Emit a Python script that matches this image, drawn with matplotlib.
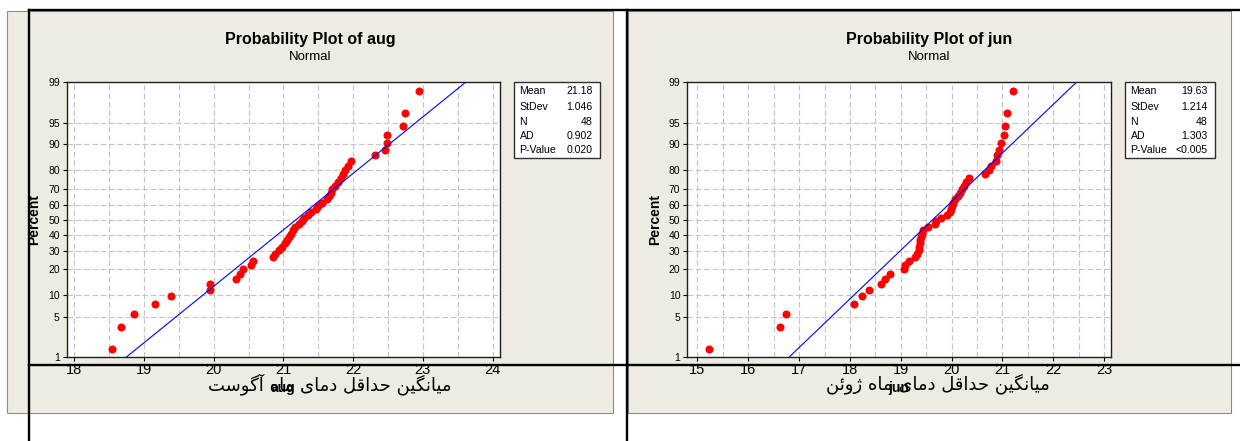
import math
import numpy as np
import matplotlib
matplotlib.use('Agg')
import matplotlib.pyplot as plt
from matplotlib.patches import Rectangle
from matplotlib.lines import Line2D

# sorted monthly minimum temperatures
aug = [18.54, 18.67, 18.86, 19.16, 19.39, 19.94, 19.95, 20.32, 20.38, 20.42,
       20.53, 20.56, 20.85, 20.88, 20.93, 20.98, 21.02, 21.05, 21.08, 21.11,
       21.14, 21.17, 21.22, 21.26, 21.30, 21.35, 21.40, 21.46, 21.50, 21.55,
       21.62, 21.66, 21.68, 21.70, 21.74, 21.78, 21.82, 21.85, 21.88, 21.92,
       21.97, 22.31, 22.46, 22.48, 22.49, 22.72, 22.75, 22.94]
jun = [15.23, 16.63, 16.74, 18.08, 18.23, 18.37, 18.62, 18.68, 18.79, 19.07,
       19.09, 19.16, 19.28, 19.32, 19.35, 19.36, 19.37, 19.38, 19.39, 19.41,
       19.44, 19.54, 19.67, 19.70, 19.80, 19.90, 19.97, 19.99, 20.00, 20.03,
       20.07, 20.12, 20.16, 20.20, 20.24, 20.29, 20.35, 20.65, 20.74, 20.77,
       20.87, 20.90, 20.93, 20.97, 21.03, 21.06, 21.08, 21.20]

# summary table values
stat_names = ['Mean', 'StDev', 'N', 'AD', 'P-Value']
aug_stats = ['21.18', '1.046', '48', '0.902', '0.020']
jun_stats = ['19.63', '1.214', '48', '1.303', '<0.005']
aug_mean, aug_sd = 21.18, 1.046
jun_mean, jun_sd = 19.63, 1.214

pct_ticks = [1, 5, 10, 20, 30, 40, 50, 60, 70, 80, 90, 95, 99]
aug_xticks = [18, 19, 20, 21, 22, 23, 24]
jun_xticks = [15, 16, 17, 18, 19, 20, 21, 22, 23]

aug_fa = 'میانگین حداقل دمای ماه آگوست'
jun_fa = 'میانگین حداقل دمای ماه ژوئن'


def ppf(p):
    """inverse normal cdf (Acklam), p in (0, 1)"""
    p = np.clip(np.asarray(p, dtype=float), 1e-9, 1 - 1e-9)
    a = [-3.969683028665376e+01, 2.209460984245205e+02, -2.759285104469687e+02,
         1.383577518672690e+02, -3.066479806614716e+01, 2.506628277459239e+00]
    b = [-5.447609879822406e+01, 1.615858368580409e+02, -1.556989798598866e+02,
         6.680131188771972e+01, -1.328068155288572e+01]
    c = [-7.784894002430293e-03, -3.223964580411365e-01, -2.400758277161838e+00,
         -2.549732539343734e+00, 4.374664141464968e+00, 2.938163982698783e+00]
    d = [7.784695709041462e-03, 3.224671290700398e-01, 2.445134137142996e+00,
         3.754408661907416e+00]
    lo = 0.02425
    out = np.empty_like(p)
    m = p < lo
    q = np.sqrt(-2 * np.log(p[m]))
    out[m] = (((((c[0]*q+c[1])*q+c[2])*q+c[3])*q+c[4])*q+c[5]) / ((((d[0]*q+d[1])*q+d[2])*q+d[3])*q+1)
    m = p > 1 - lo
    q = np.sqrt(-2 * np.log(1 - p[m]))
    out[m] = -(((((c[0]*q+c[1])*q+c[2])*q+c[3])*q+c[4])*q+c[5]) / ((((d[0]*q+d[1])*q+d[2])*q+d[3])*q+1)
    m = (p >= lo) & (p <= 1 - lo)
    q = p[m] - 0.5
    r = q * q
    out[m] = (((((a[0]*r+a[1])*r+a[2])*r+a[3])*r+a[4])*r+a[5])*q / (((((b[0]*r+b[1])*r+b[2])*r+b[3])*r+b[4])*r+1)
    return out


erf = np.vectorize(math.erf)


def pct_forward(pct):
    return ppf(np.asarray(pct, dtype=float) / 100.0)


def pct_inverse(z):
    return 50.0 * (1 + erf(np.asarray(z, dtype=float) / math.sqrt(2)))


# persian text: pick contextual presentation forms, then reverse for display
FORMS = {
    'ا': ('\uFE8D', '\uFE8E'), 'آ': ('\uFE81', '\uFE82'),
    'د': ('\uFEA9', '\uFEAA'), 'و': ('\uFEED', '\uFEEE'),
    'ژ': ('\uFB8A', '\uFB8B'),
    'ت': ('\uFE95', '\uFE96', '\uFE97', '\uFE98'),
    'ح': ('\uFEA1', '\uFEA2', '\uFEA3', '\uFEA4'),
    'س': ('\uFEB1', '\uFEB2', '\uFEB3', '\uFEB4'),
    'ق': ('\uFED5', '\uFED6', '\uFED7', '\uFED8'),
    'گ': ('\uFB92', '\uFB93', '\uFB94', '\uFB95'),
    'ل': ('\uFEDD', '\uFEDE', '\uFEDF', '\uFEE0'),
    'م': ('\uFEE1', '\uFEE2', '\uFEE3', '\uFEE4'),
    'ن': ('\uFEE5', '\uFEE6', '\uFEE7', '\uFEE8'),
    'ه': ('\uFEE9', '\uFEEA', '\uFEEB', '\uFEEC'),
    'ی': ('\uFBFC', '\uFBFD', '\uFBFE', '\uFBFF'),
    'ئ': ('\uFE89', '\uFE8A', '\uFE8B', '\uFE8C'),
}


def shape_fa(text):
    out = []
    for k, ch in enumerate(text):
        if ch not in FORMS:
            out.append(ch)
            continue
        prev = text[k - 1] if k > 0 else ' '
        nxt = text[k + 1] if k + 1 < len(text) else ' '
        join_prev = prev in FORMS and len(FORMS[prev]) == 4
        join_next = len(FORMS[ch]) == 4 and nxt in FORMS
        f = FORMS[ch]
        if join_prev and join_next:
            out.append(f[3])
        elif join_prev:
            out.append(f[1])
        elif join_next:
            out.append(f[2])
        else:
            out.append(f[0])
    return ''.join(out)[::-1]


plt.rcParams['font.family'] = ['Liberation Sans', 'DejaVu Sans']

W, H = 1240, 441
fig = plt.figure(figsize=(W / 100, H / 100), dpi=100)
fig.patch.set_facecolor('white')


def fx(x):
    return x / W


def fy(y):
    return 1 - y / H


def panel(values, mean, sd, name, xticks, xlim, stats, fa_text, rects):
    beige, axr, box, fa_x = rects
    # beige background of the minitab graph
    fig.add_artist(Rectangle((fx(beige[0]), fy(beige[3])), fx(beige[2] - beige[0]),
                             (beige[3] - beige[1]) / H, transform=fig.transFigure,
                             facecolor='#EEEBE2', edgecolor='#8C8C8C', lw=0.8, zorder=-5))
    ax = fig.add_axes([fx(axr[0]), fy(axr[3]), fx(axr[2] - axr[0]), (axr[3] - axr[1]) / H])
    ax.set_facecolor('white')

    n = len(values)
    pct = [100.0 * (i + 1 - 0.3) / (n + 0.4) for i in range(n)]
    ax.set_yscale('function', functions=(pct_forward, pct_inverse))

    # fitted normal line from 1% to 99%
    line_pct = np.array([1.0, 99.0])
    line_x = mean + sd * ppf(line_pct / 100)
    ax.plot(values, pct, 'o', color='#FF0000', ms=5.8, mec='none', zorder=3)
    ax.plot(line_x, line_pct, color='#0000FF', lw=0.8, zorder=4)

    ax.set_ylim(1, 99)
    ax.set_xlim(*xlim)
    ax.set_yticks(pct_ticks)
    ax.set_yticklabels([str(p) for p in pct_ticks])
    ax.set_yticks([], minor=True)
    ax.set_xticks(xticks)
    ax.set_xticks(np.arange(xticks[0], xticks[-1] + 0.01, 0.5), minor=True)
    ax.tick_params(axis='y', labelsize=7.5, length=3, width=0.8, pad=2)
    ax.tick_params(axis='x', labelsize=10.5, length=3, width=0.8, pad=1.5)
    ax.tick_params(axis='x', which='minor', length=0)
    ax.grid(True, which='both', axis='x', color='#C4C4C4', lw=0.8, ls=(0, (5, 2.5)))
    ax.grid(True, which='major', axis='y', color='#C4C4C4', lw=0.8, ls=(0, (5, 2.5)))
    ax.set_axisbelow(True)
    for s in ax.spines.values():
        s.set_linewidth(1.0)
        s.set_color('#202020')

    ax.set_ylabel('Percent', fontsize=10, fontweight='bold')
    ax.set_xlabel(name, fontsize=10, fontweight='bold')
    w_px = axr[2] - axr[0]
    h_px = axr[3] - axr[1]
    ax.yaxis.set_label_coords((33.8 + beige[0] - 7 - axr[0]) / w_px, 0.5)
    ax.yaxis.label.set_va('center')
    ax.xaxis.set_label_coords(0.5, (axr[3] - 388) / h_px)
    ax.xaxis.label.set_va('center')

    cx = (beige[0] + beige[2]) / 2
    fig.text(fx(cx), fy(39.5), 'Probability Plot of ' + name, ha='center', va='center',
             fontsize=11.5, fontweight='bold', color='black')
    fig.text(fx(cx), fy(57.3), 'Normal', ha='center', va='center', fontsize=9.5)

    # stats table
    fig.add_artist(Rectangle((fx(box[0]), fy(box[3])), fx(box[2] - box[0]), (box[3] - box[1]) / H,
                             transform=fig.transFigure, facecolor='white',
                             edgecolor='#303030', lw=1.0, zorder=2))
    rows = [90.7, 106.7, 121.7, 136.0, 150.2]
    for lab, val, yy in zip(stat_names, stats, rows):
        fig.text(fx(box[0] + 5.5), fy(yy), lab, ha='left', va='center', fontsize=7.6, zorder=3)
        fig.text(fx(box[2] - 7.5), fy(yy), val, ha='right', va='center', fontsize=7.6, zorder=3)

    # persian caption laid over the axis label
    fig.text(fx(fa_x), fy(384), shape_fa(fa_text), ha='center', va='center',
             fontsize=13, family='DejaVu Sans', zorder=6)
    return ax


panel(aug, aug_mean, aug_sd, 'aug', aug_xticks, (17.89, 24.1), aug_stats, aug_fa,
      ((7, 10.5, 613, 412.5), (66.7, 82.3, 499.5, 357.0), (514, 82.3, 600, 158.3), 330))
panel(jun, jun_mean, jun_sd, 'jun', jun_xticks, (14.8, 23.13), jun_stats, jun_fa,
      ((628, 10.5, 1231, 412.5), (687.3, 82.3, 1110.7, 357.0), (1125, 82.3, 1215, 158.3), 937.6))

# black table borders of the document
for (x0, y0, x1, y1) in [(29, 10, 1240, 10), (29, 365, 1240, 365),
                         (29, 10, 29, 441), (627, 10, 627, 441)]:
    fig.add_artist(Line2D([fx(x0), fx(x1)], [fy(y0), fy(y1)], color='black', lw=1.7,
                          transform=fig.transFigure, zorder=10))

fig.savefig('out.png', dpi=100, facecolor='white')
